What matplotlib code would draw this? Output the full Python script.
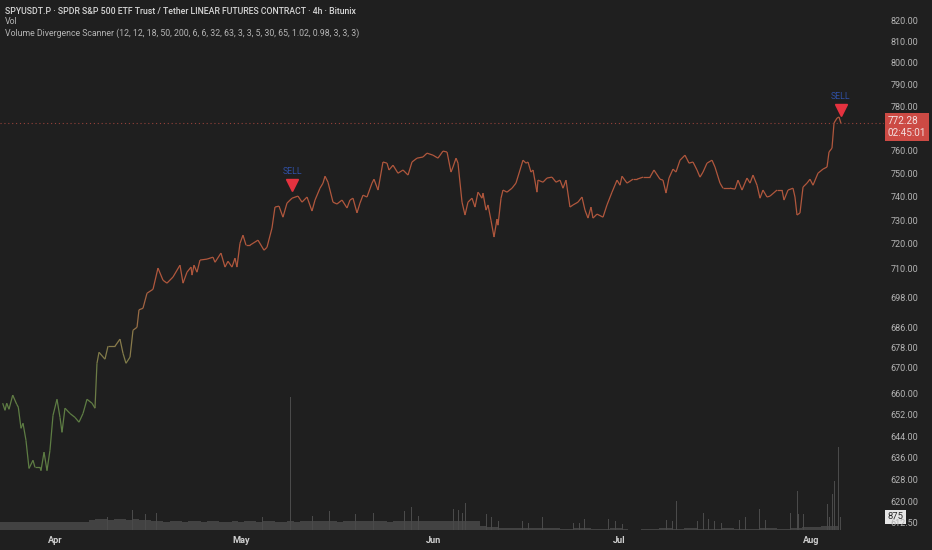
import numpy as np
import pandas as pd
import matplotlib
matplotlib.use('Agg')
import matplotlib.pyplot as plt
import matplotlib.dates as mdates
import matplotlib.transforms as mtransforms
from matplotlib.collections import LineCollection
from matplotlib.colors import LinearSegmentedColormap, Normalize
from matplotlib.ticker import FixedLocator, NullLocator, FuncFormatter


################################### Dati ###################################
start = pd.Timestamp('2025-04-01')

# giorni dal 1 aprile (barre 4h, lette a vista) e prezzo di chiusura
days = [-8.44, -8.06, -7.79, -7.42, -6.82, -6.18, -5.92, -5.48, -5.16, -4.68, -4.19, -3.55, -3.23, -2.42,
        -2.26, -1.77, -1.29, -0.81, -0.32, 0.32, 0.81, 1.13, 1.61, 2.42, 3.23, 3.87, 4.52, 5.16, 5.97, 6.45,
        6.77, 7.10, 8.06, 8.55, 9.68, 10.48, 10.97, 11.45, 12.10, 12.58, 13.23, 13.55, 14.19, 14.84, 15.81,
        16.61, 17.42, 18.06, 19.03, 20.16, 20.65, 21.29, 21.94, 22.10, 22.42, 22.90, 23.39, 24.52, 25.48,
        25.81, 26.77, 27.42, 27.90, 28.55, 29.03, 29.35, 29.84, 30.32, 30.81, 31.45, 32.74, 33.71, 34.19,
        35.00, 35.48, 36.13, 36.77, 37.42, 38.23, 39.19, 39.84, 40.65, 41.45, 41.94, 42.74, 43.23, 43.55,
        44.03, 44.84, 45.48, 46.29, 47.10, 47.58, 48.06, 48.71, 49.19, 49.68, 50.32, 51.13, 51.45, 52.10,
        52.90, 53.55, 53.87, 54.52, 55.32, 56.13, 56.94, 57.58, 58.39, 59.35, 60.00, 60.97, 61.77, 62.58,
        63.23, 63.87, 64.19, 64.68, 65.00, 65.65, 66.13, 66.61, 67.26, 67.74, 68.23, 68.87, 69.03, 69.52,
        69.84, 70.32, 70.81, 71.29, 71.45, 71.94, 72.26, 72.90, 73.71, 74.35, 75.00, 75.48, 75.97, 76.29,
        76.77, 77.10, 77.74, 77.90, 78.71, 79.35, 80.16, 80.81, 81.45, 81.94, 82.42, 83.06, 83.55, 84.35,
        85.00, 85.48, 85.97, 86.45, 86.77, 87.42, 88.39, 89.03, 89.84, 90.65, 91.13, 91.45, 92.26, 93.23,
        93.87, 94.84, 95.97, 96.61, 97.58, 98.06, 98.55, 99.03, 99.68, 100.16, 100.81, 101.61, 102.26,
        102.90, 103.55, 104.03, 104.52, 105.16, 105.97, 106.45, 107.26, 107.74, 108.87, 109.68, 110.16,
        110.81, 111.61, 112.10, 112.58, 113.23, 113.71, 114.19, 114.84, 115.32, 116.45, 117.26, 117.58,
        118.23, 119.03, 119.35, 119.68, 120.16, 120.65, 121.29, 121.77, 122.26, 123.06, 123.87, 124.52,
        124.84, 125.32, 125.65, 126.13, 126.45, 126.77]

price = [656.4, 653.7, 656.4, 654.1, 659.5, 656.0, 654.9, 646.9, 648.8, 642.4, 632.0, 635.0, 632.4, 632.4,
         631.2, 638.0, 631.2, 638.7, 651.8, 657.9, 651.0, 645.4, 654.5, 652.5, 651.0, 649.2, 652.5, 657.9,
         656.4, 654.5, 671.8, 676.1, 673.4, 678.5, 678.5, 681.3, 675.7, 671.8, 674.2, 684.8, 686.0, 693.0,
         693.6, 699.7, 701.3, 710.0, 705.0, 703.8, 706.3, 711.2, 703.8, 708.3, 710.4, 707.1, 711.2, 708.3,
         713.3, 713.7, 714.5, 712.4, 716.2, 710.4, 712.8, 710.4, 714.1, 710.4, 720.3, 723.7, 719.5, 719.5,
         721.6, 717.4, 718.6, 726.7, 735.6, 736.0, 731.3, 737.3, 739.4, 740.3, 737.7, 739.9, 733.9, 738.6,
         743.7, 745.9, 748.9, 746.3, 737.7, 736.9, 738.6, 735.2, 738.6, 739.4, 733.1, 737.3, 740.7, 739.9,
         745.9, 747.6, 742.9, 755.1, 754.6, 751.6, 753.7, 750.2, 751.6, 749.4, 755.1, 756.8, 757.3, 759.0,
         758.1, 756.8, 759.9, 759.5, 750.7, 752.9, 756.8, 754.6, 737.7, 732.2, 737.7, 739.4, 735.6, 742.0,
         739.4, 741.6, 734.3, 736.5, 730.0, 722.9, 730.5, 727.9, 739.4, 742.9, 742.0, 743.7, 745.9, 751.6,
         755.9, 754.6, 755.1, 750.7, 751.6, 742.0, 747.2, 746.3, 748.1, 748.5, 746.3, 747.2, 743.7, 747.2,
         735.6, 736.5, 737.7, 739.9, 734.3, 730.9, 735.6, 730.9, 732.6, 731.3, 736.5, 742.0, 747.2, 745.0,
         748.9, 745.9, 747.6, 747.6, 748.5, 748.5, 751.6, 747.6, 747.2, 741.6, 748.1, 752.0, 750.7, 755.9,
         758.1, 754.6, 755.1, 751.6, 748.5, 750.7, 754.6, 755.9, 752.9, 745.9, 743.7, 743.7, 743.3, 747.2,
         742.9, 748.1, 745.9, 749.4, 745.0, 739.4, 742.9, 739.9, 740.3, 742.9, 742.9, 738.6, 742.9, 743.7,
         739.9, 732.2, 733.1, 744.2, 745.9, 747.6, 745.0, 750.2, 752.0, 752.9, 759.5, 761.2, 772.4, 774.6,
         775.1, 772.28]

# volume giornaliero di fondo (dal giorno -9 al 126) + picchi singoli
vol_day0 = -9
vol_base = [540, 530, 550, 540, 530, 540, 550, 540, 530, 540, 550, 540, 560, 540, 550,
            700, 740, 720, 690, 750, 710, 680, 720, 700, 660,
            600, 580, 560, 580, 570, 560, 590, 570, 560, 580, 570, 560, 550, 570, 560, 580, 570, 560,
            570, 580, 560, 550, 570, 560, 580,
            590, 580, 570, 600, 590, 560, 580, 600, 590, 570, 580, 600, 590, 560, 570, 590, 580, 600,
            570, 580, 590, 600, 610, 590, 620, 630, 600, 580,
            250, 200, 180, 150, 130, 140, 160, 120, 130, 150, 140, 120, 110, 100, 90, 130, 120, 110,
            80, 60, 90, 120, 110, 40, 30, 30, 40, 60, 80, 120, 140, 100, 90, 110, 120, 80, 60, 70,
            100, 130, 110, 90, 70, 60, 100, 120, 140, 110, 90, 80, 120, 160, 180, 200, 220, 240, 260, 300]

spike_days = [6.13, 8.39, 12.58, 14.52, 16.45, 27.42, 33.39, 38.06, 41.61, 44.35, 47.42, 48.39, 51.45,
              56.45, 57.58, 58.55, 62.42, 64.35, 65.16, 65.65, 66.29, 69.52, 70.48, 71.61, 72.42, 75.48,
              76.45, 78.55, 82.42, 83.55, 84.52, 85.48, 89.35, 90.48, 91.61, 92.42, 97.42, 98.55, 99.52,
              100.32, 103.55, 104.52, 105.48, 106.45, 107.58, 110.48, 111.45, 112.42, 113.55, 114.52,
              117.42, 118.55, 119.68, 119.84, 120.65, 124.52, 124.84, 125.48, 125.65, 126.13, 126.45, 126.77]
spike_vol = [1170, 900, 1370, 1040, 1170, 970, 840, 8880, 970, 1240, 1040, 1100, 1170,
             1240, 1570, 970, 840, 1440, 1310, 1170, 1840, 1040, 840, 570, 500, 570,
             500, 900, 300, 500, 500, 770, 770, 570, 370, 1100, 570, 700, 570,
             1910, 570, 1170, 770, 570, 500, 700, 900, 840, 1440, 700,
             1510, 1170, 2580, 1040, 1040, 1710, 900, 2380, 3250, 840, 5590, 875]

sell_days = [38.06, 126.77]

last_price = 772.28
last_vol = 875
countdown = '02:45:01'

price_ticks = [820, 810, 800, 790, 780, 760, 750, 740, 730, 720, 710, 698, 686, 678, 670,
               660, 652, 644, 636, 628, 620, 612.5]
month_ticks = ['2025-04-01', '2025-05-01', '2025-06-01', '2025-07-01', '2025-08-01']
month_labels = ['Apr', 'May', 'Jun', 'Jul', 'Aug']

title_main = 'SPYUSDT.P · SPDR S&P 500 ETF Trust / Tether LINEAR FUTURES CONTRACT · 4h · Bitunix'
title_vol = 'Vol'
title_ind = 'Volume Divergence Scanner (12, 12, 18, 50, 200, 6, 6, 32, 63, 3, 3, 5, 30, 65, 1.02, 0.98, 3, 3, 3)'


################################### Stile ###################################
bg = '#1f1f1f'
txt = '#b4b4b4'
plt.rcParams['font.family'] = ['Roboto', 'DejaVu Sans']

fig = plt.figure(figsize=(9.32, 5.5), dpi=100, facecolor=bg)
rect = [0, 20/550, 884/932, 530/550]

# volume (asse sotto)
vax = fig.add_axes(rect, zorder=1)
vax.set_facecolor(bg)
ax = fig.add_axes(rect, zorder=2, sharex=vax)
ax.patch.set_visible(False)

t0 = mdates.date2num(start)
x_vb = t0 + vol_day0 + np.arange(len(vol_base))
vax.bar(x_vb, vol_base, width=1.0, color='#424242', align='center', linewidth=0)
vax.bar(t0 + np.array(spike_days), spike_vol, width=0.16, color='#4a4a4a', linewidth=0)
vax.set_ylim(0, 35500)
vax.axis('off')

# prezzo con gradiente verde -> arancio
xd = t0 + np.array(days)
yp = np.array(price)
pts = np.column_stack([xd, yp]).reshape(-1, 1, 2)
segs = np.concatenate([pts[:-1], pts[1:]], axis=1)
cmap = LinearSegmentedColormap.from_list('gr', ['#5e7d44', '#8a7b4b', '#b0573d'])
lc = LineCollection(segs, cmap=cmap, norm=Normalize(655, 705), linewidth=0.9)
lc.set_array((yp[:-1] + yp[1:]) / 2)
ax.add_collection(lc)

ax.set_yscale('log')
ax.set_ylim(609.8, 829.6)
ax.set_xlim(t0 - 8.87, t0 + 133.71)

# linea ultimo prezzo
ax.axhline(last_price, color='#96423a', lw=0.8, ls=(0, (1, 2.5)))

# segnali SELL
for d in sell_days:
    i = int(np.argmin(np.abs(np.array(days) - d)))
    ax.plot(xd[i], yp[i], marker='v', ms=8.5, color='#e5323f', ls='none',
            transform=ax.transData + mtransforms.ScaledTranslation(0, 13/100, fig.dpi_scale_trans))
    ax.annotate('SELL', (xd[i], yp[i]), xytext=(0, 19), textcoords='offset points',
                ha='center', va='center', color='#2f4fa3', fontsize=6.3)

# assi
for s in ax.spines.values():
    s.set_visible(False)
ax.yaxis.tick_right()
ax.yaxis.set_major_locator(FixedLocator(price_ticks))
ax.yaxis.set_minor_locator(NullLocator())
ax.yaxis.set_major_formatter(FuncFormatter(lambda v, p: f'{v:.2f}'))
ax.tick_params(axis='y', length=0, pad=4.5, labelsize=6.5, labelcolor=txt)
ax.set_xticks(mdates.date2num(pd.to_datetime(month_ticks)))
ax.set_xticklabels(month_labels)
ax.tick_params(axis='x', length=0, pad=4.5, labelsize=6.6, labelcolor='#d0d0d0')
for lab in ax.get_xticklabels():
    lab.set_fontweight('bold')

# etichette a destra
bt = mtransforms.blended_transform_factory(ax.transAxes, ax.transData)
ax.text(1.004, last_price, f'{last_price:.2f}\n{countdown}',
        transform=bt + mtransforms.ScaledTranslation(0, 7/100, fig.dpi_scale_trans),
        ha='left', va='top', fontsize=7.2, color='#f2dede', linespacing=1.2, clip_on=False,
        bbox=dict(boxstyle='square,pad=0.3', fc='#cc4a44', ec='none'))
bv = mtransforms.blended_transform_factory(vax.transAxes, vax.transData)
vax.text(1.004, last_vol, f'{last_vol}', transform=bv, ha='left', va='center', fontsize=6.8,
         color='#2a2a2a', clip_on=False, zorder=5,
         bbox=dict(boxstyle='square,pad=0.25', fc='#e6e6e6', ec='none'))

# titoli
fig.text(5/932, 1 - 11/550, title_main, ha='left', va='center', fontsize=6.3, color='#d6d6d6', fontweight='medium')
fig.text(5/932, 1 - 22/550, title_vol, ha='left', va='center', fontsize=6.3, color=txt)
fig.text(5/932, 1 - 33.5/550, title_ind, ha='left', va='center', fontsize=6.3, color=txt)

plt.savefig('out.png', dpi=100, facecolor=bg)
